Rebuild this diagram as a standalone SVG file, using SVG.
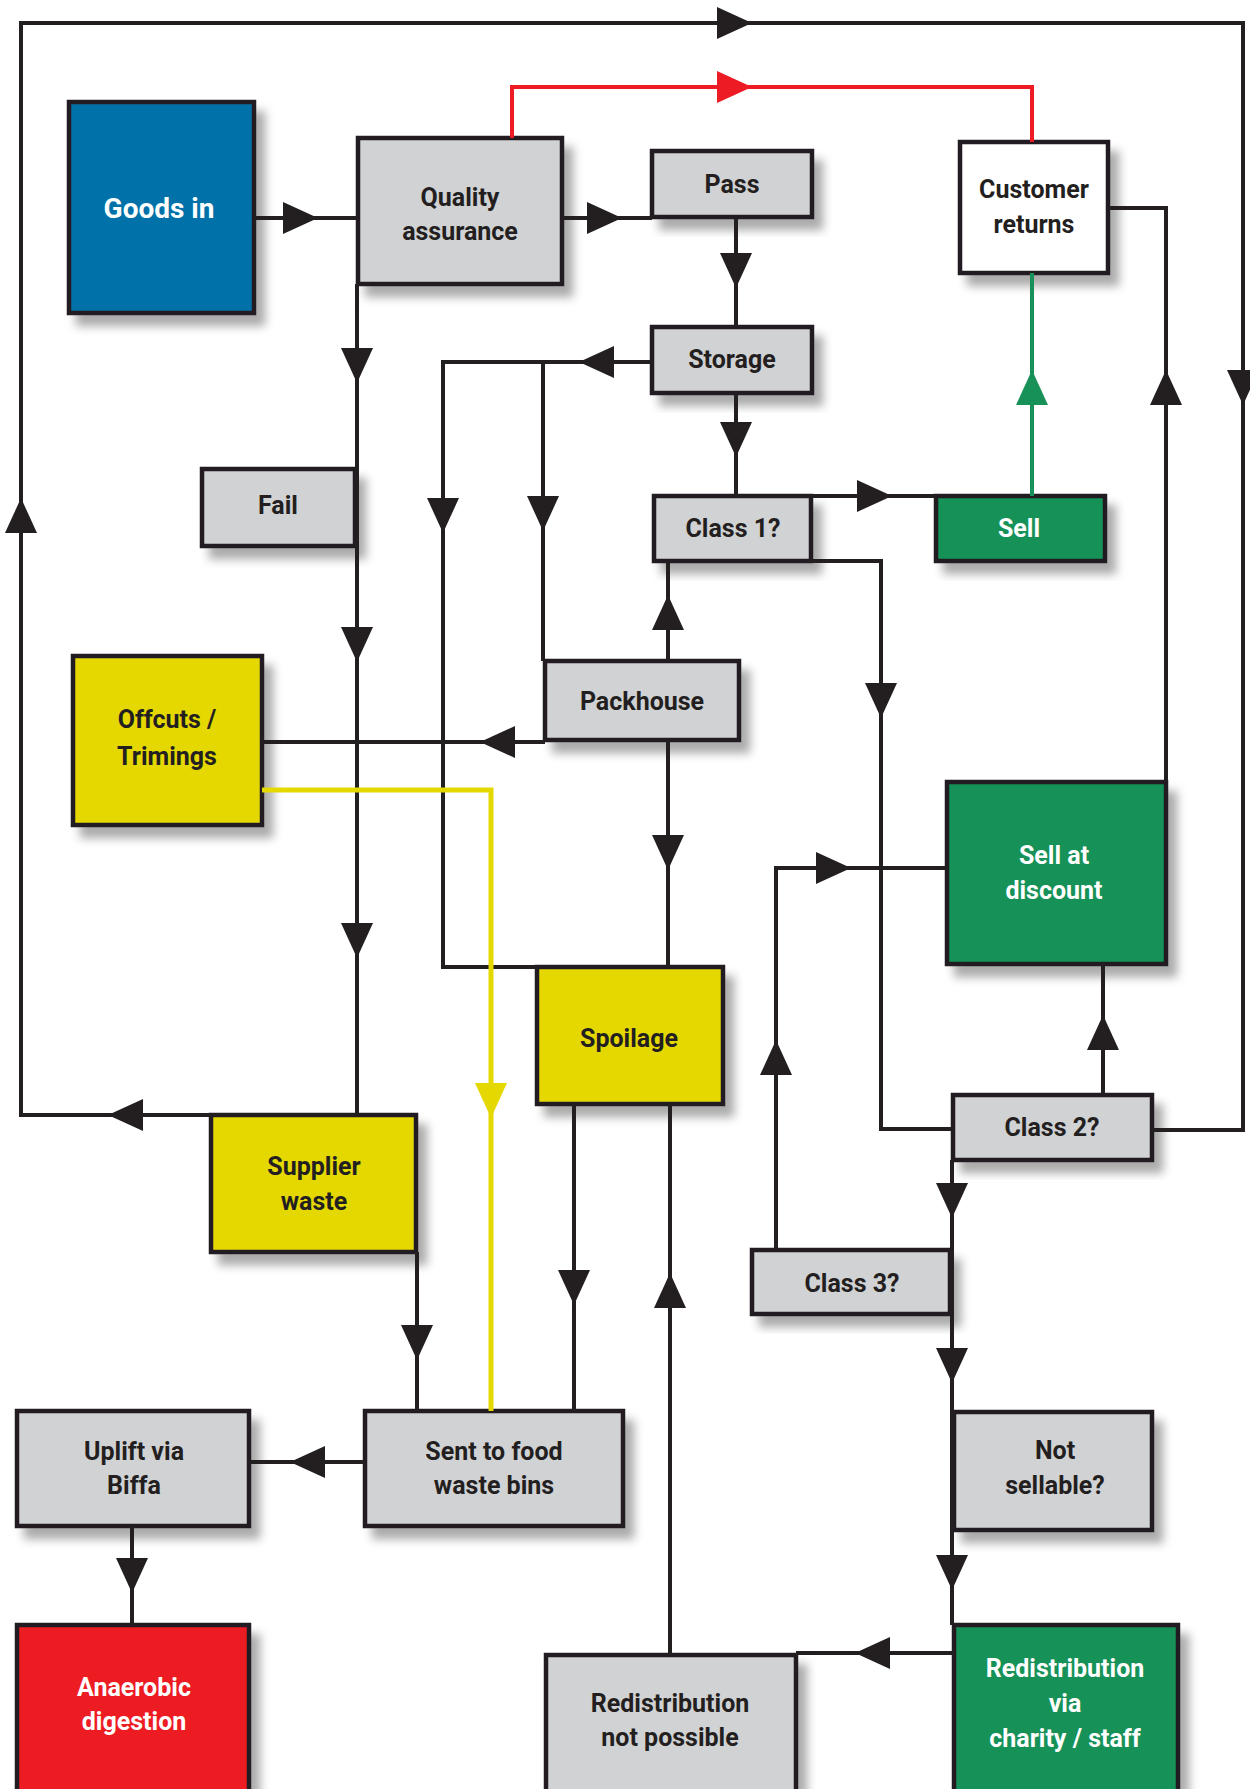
<svg xmlns="http://www.w3.org/2000/svg" xmlns:xlink="http://www.w3.org/1999/xlink" width="1250" height="1789" viewBox="0 0 1250 1789">
<style>
.box{stroke:#231f20;stroke-width:4.5;filter:url(#sh)}
.gray{fill:#d1d2d4}.blue{fill:#0072a9}.yel{fill:#e5d800}.grn{fill:#179158}.red{fill:#ed1c24}.wht{fill:#ffffff}
text{font-family:Roboto,"Liberation Sans",Arial,sans-serif;font-weight:700;font-size:25px;text-anchor:middle;fill:#231f20}
text.w{fill:#ffffff}
text.big{font-size:28px}
.ln{fill:none;stroke:#231f20;stroke-width:4}
.lr{fill:none;stroke:#ed1c24;stroke-width:4}
.lg{fill:none;stroke:#179158;stroke-width:4}
.ly{fill:none;stroke:#e5d800;stroke-width:5}
.ak{fill:#231f20}.ar{fill:#ed1c24}.ag{fill:#179158}.ay{fill:#e5d800}
</style>
<defs>
<filter id="sh" x="-20%" y="-20%" width="150%" height="150%">
<feDropShadow dx="9" dy="11" stdDeviation="5" flood-color="#000" flood-opacity="0.33"/>
</filter>
<path id="ah" d="M0,0 L-35,-16 L-35,16 Z"/>
</defs>
<rect width="1250" height="1789" fill="#ffffff"/>

<g id="nodes">
<g id="goods-in"><rect class="box blue" x="69" y="102" width="185" height="211"/><text class="w big" x="159" y="218">Goods in</text></g>
<g id="quality-assurance"><rect class="box gray" x="358" y="138" width="204" height="146"/><text x="460" y="206">Quality</text><text x="460" y="240">assurance</text></g>
<g id="pass"><rect class="box gray" x="652" y="151" width="160" height="66"/><text x="732" y="193">Pass</text></g>
<g id="storage"><rect class="box gray" x="652" y="327" width="160" height="66"/><text x="732" y="368">Storage</text></g>
<g id="customer-returns"><rect class="box wht" x="960" y="142" width="148" height="131"/><text x="1034" y="198">Customer</text><text x="1034" y="233">returns</text></g>
<g id="fail"><rect class="box gray" x="202" y="469" width="153" height="77"/><text x="278" y="514">Fail</text></g>
<g id="class1"><rect class="box gray" x="654" y="496" width="157" height="65"/><text x="733" y="537">Class 1?</text></g>
<g id="sell"><rect class="box grn" x="936" y="496" width="169" height="65"/><text class="w" x="1019" y="537">Sell</text></g>
<g id="offcuts"><rect class="box yel" x="73" y="656" width="189" height="169"/><text x="167" y="728">Offcuts /</text><text x="167" y="765">Trimings</text></g>
<g id="packhouse"><rect class="box gray" x="545" y="661" width="194" height="79"/><text x="642" y="710">Packhouse</text></g>
<g id="sell-at-discount"><rect class="box grn" x="947" y="782" width="219" height="182"/><text class="w" x="1054" y="864">Sell at</text><text class="w" x="1054" y="899">discount</text></g>
<g id="spoilage"><rect class="box yel" x="537" y="967" width="186" height="137"/><text x="629" y="1047">Spoilage</text></g>
<g id="supplier-waste"><rect class="box yel" x="211" y="1115" width="205" height="137"/><text x="314" y="1175">Supplier</text><text x="314" y="1210">waste</text></g>
<g id="class2"><rect class="box gray" x="953" y="1095" width="199" height="65"/><text x="1052" y="1136">Class 2?</text></g>
<g id="class3"><rect class="box gray" x="752" y="1250" width="198" height="64"/><text x="852" y="1292">Class 3?</text></g>
<g id="uplift"><rect class="box gray" x="17" y="1411" width="232" height="115"/><text x="134" y="1460">Uplift via</text><text x="134" y="1494">Biffa</text></g>
<g id="sent-to-bins"><rect class="box gray" x="365" y="1411" width="258" height="115"/><text x="494" y="1460">Sent to food</text><text x="494" y="1494">waste bins</text></g>
<g id="not-sellable"><rect class="box gray" x="954" y="1412" width="198" height="118"/><text x="1055" y="1459">Not</text><text x="1055" y="1494">sellable?</text></g>
<g id="anaerobic"><rect class="box red" x="17" y="1625" width="232" height="185"/><text class="w" x="134" y="1696">Anaerobic</text><text class="w" x="134" y="1730">digestion</text></g>
<g id="redist-not-possible"><rect class="box gray" x="546" y="1655" width="250" height="155"/><text x="670" y="1712">Redistribution</text><text x="670" y="1746">not possible</text></g>
<g id="redist-via"><rect class="box grn" x="954" y="1625" width="224" height="185"/><text class="w" x="1065" y="1677">Redistribution</text><text class="w" x="1065" y="1712">via</text><text class="w" x="1065" y="1747">charity / staff</text></g>
</g>

<g id="connectors">
<path class="ln" d="M357,1115 H21 V23 H1243 V1130 H1152"/>
<use href="#ah" class="ak" transform="translate(108,1115) rotate(180)"/>
<use href="#ah" class="ak" transform="translate(21,498) rotate(-90)"/>
<use href="#ah" class="ak" transform="translate(752,23)"/>
<use href="#ah" class="ak" transform="translate(1243,405) rotate(90)"/>

<path class="ln" d="M254,218 H358"/>
<use href="#ah" class="ak" transform="translate(318,218)"/>
<path class="ln" d="M562,218 H652"/>
<use href="#ah" class="ak" transform="translate(622,218)"/>

<path class="lr" d="M512,138 V87 H1032 V142"/>
<use href="#ah" class="ar" transform="translate(752,87)"/>

<path class="ln" d="M736,217 V327"/>
<use href="#ah" class="ak" transform="translate(736,288) rotate(90)"/>
<path class="ln" d="M736,393 V496"/>
<use href="#ah" class="ak" transform="translate(736,457) rotate(90)"/>

<path class="ln" d="M652,362 H443 V967 H537"/>
<use href="#ah" class="ak" transform="translate(579,362) rotate(180)"/>
<use href="#ah" class="ak" transform="translate(443,533) rotate(90)"/>
<path class="ln" d="M543,362 V661"/>
<use href="#ah" class="ak" transform="translate(543,531) rotate(90)"/>

<path class="ln" d="M357,284 V1115"/>
<use href="#ah" class="ak" transform="translate(357,383) rotate(90)"/>
<use href="#ah" class="ak" transform="translate(357,662) rotate(90)"/>
<use href="#ah" class="ak" transform="translate(357,958) rotate(90)"/>

<path class="ln" d="M736,496 H936"/>
<use href="#ah" class="ak" transform="translate(892,496)"/>

<path class="lg" d="M1032,496 V273"/>
<use href="#ah" class="ag" transform="translate(1032,370) rotate(-90)"/>

<path class="ln" d="M1108,208 H1166 V782"/>
<use href="#ah" class="ak" transform="translate(1166,370) rotate(-90)"/>

<path class="ln" d="M811,561 H881 V1129 H953"/>
<use href="#ah" class="ak" transform="translate(881,718) rotate(90)"/>

<path class="ln" d="M668,661 V561"/>
<use href="#ah" class="ak" transform="translate(668,595) rotate(-90)"/>

<path class="ln" d="M545,742 H262"/>
<use href="#ah" class="ak" transform="translate(480,742) rotate(180)"/>

<path class="ly" d="M262,790 H491 V1411"/>
<use href="#ah" class="ay" transform="translate(491,1118) rotate(90)"/>

<path class="ln" d="M668,740 V967"/>
<use href="#ah" class="ak" transform="translate(668,870) rotate(90)"/>

<path class="ln" d="M947,868 H776 V1250"/>
<use href="#ah" class="ak" transform="translate(851,868)"/>
<use href="#ah" class="ak" transform="translate(776,1040) rotate(-90)"/>

<path class="ln" d="M1103,1095 V964"/>
<use href="#ah" class="ak" transform="translate(1103,1015) rotate(-90)"/>

<path class="ln" d="M952,1160 V1625"/>
<use href="#ah" class="ak" transform="translate(952,1218) rotate(90)"/>
<use href="#ah" class="ak" transform="translate(952,1383) rotate(90)"/>
<use href="#ah" class="ak" transform="translate(952,1590) rotate(90)"/>

<path class="ln" d="M574,1104 V1411"/>
<use href="#ah" class="ak" transform="translate(574,1305) rotate(90)"/>

<path class="ln" d="M417,1252 V1411"/>
<use href="#ah" class="ak" transform="translate(417,1360) rotate(90)"/>

<path class="ln" d="M365,1462 H249"/>
<use href="#ah" class="ak" transform="translate(290,1462) rotate(180)"/>

<path class="ln" d="M132,1526 V1625"/>
<use href="#ah" class="ak" transform="translate(132,1593) rotate(90)"/>

<path class="ln" d="M954,1653 H796"/>
<use href="#ah" class="ak" transform="translate(855,1653) rotate(180)"/>

<path class="ln" d="M670,1655 V1104"/>
<use href="#ah" class="ak" transform="translate(670,1273) rotate(-90)"/>
</g>
</svg>
